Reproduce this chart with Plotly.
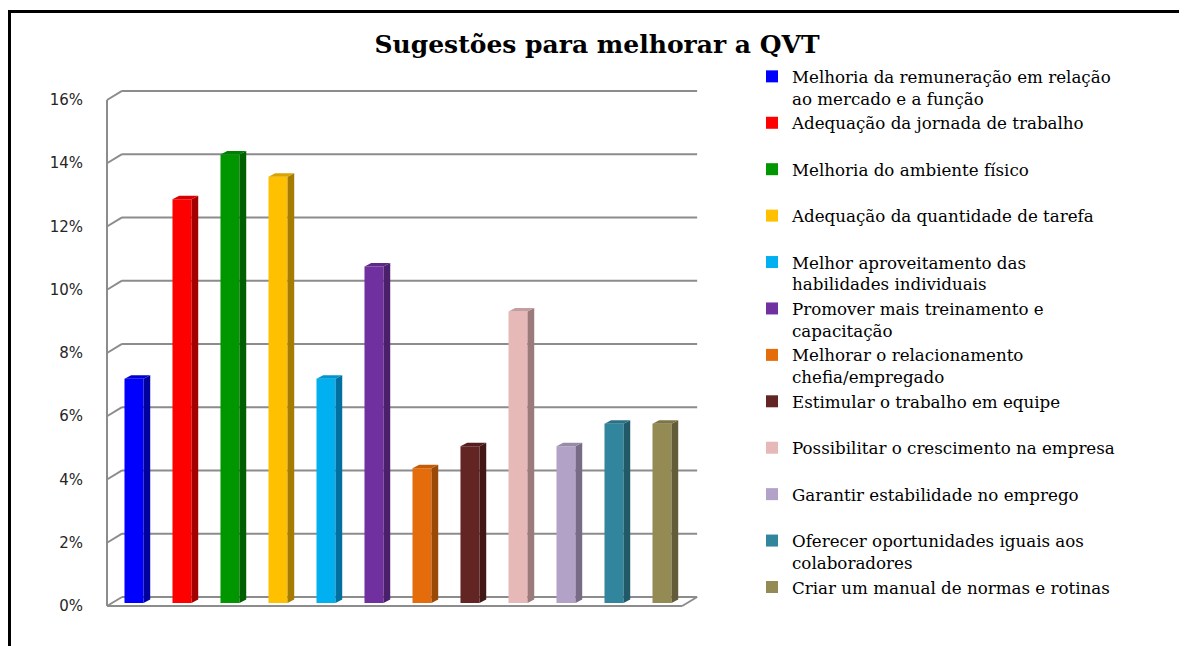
import plotly.graph_objects as go

categories = [
    "Melhoria da remuneração em relação<br>ao mercado e a função",
    "Adequação da jornada de trabalho",
    "Melhoria do ambiente físico",
    "Adequação da quantidade de tarefa",
    "Melhor aproveitamento das<br>habilidades individuais",
    "Promover mais treinamento e<br>capacitação",
    "Melhorar o relacionamento<br>chefia/empregado",
    "Estimular o trabalho em equipe",
    "Possibilitar o crescimento na empresa",
    "Garantir estabilidade no emprego",
    "Oferecer oportunidades iguais aos<br>colaboradores",
    "Criar um manual de normas e rotinas",
]
values = [7.09, 12.77, 14.18, 13.48, 7.09, 10.64, 4.26, 4.96, 9.22, 4.96, 5.67, 5.67]
front_colors = ["#0000FF", "#FF0000", "#009600", "#FFC000", "#00B0F0", "#7030A0",
                "#E46C0A", "#632523", "#E6B9B8", "#B3A2C7", "#31859C", "#948A54"]
side_colors = ["#00009E", "#A50000", "#005F00", "#A67C00", "#0070A0", "#4A1F6B",
               "#9A4906", "#421816", "#9A7A7A", "#776B85", "#215968", "#635C38"]
top_colors = ["#0000D0", "#D80000", "#007F00", "#D9A300", "#0095CC", "#5F2888",
              "#C25C08", "#541F1D", "#C49D9C", "#988AA9", "#2A7185", "#7E7547"]
y_ticks = [0, 2, 4, 6, 8, 10, 12, 14, 16]
y_ticktext = ["0%", "2%", "4%", "6%", "8%", "10%", "12%", "14%", "16%"]
title_text = "Sugestões para melhorar a QVT"

# geometry (styling)
BAR_W = 0.396
SDX, SDY = 0.14, 0.11
BASE = 0.095
WALL_X0 = -0.5625
WALL_DX, WALL_DY = 0.3125, 0.285
FLOOR_X1 = 11.42

fig = go.Figure()

for i, (cat, v) in enumerate(zip(categories, values)):
    label = cat if "<br>" in cat else cat + "<br>\u00a0"
    fig.add_trace(go.Bar(
        x=[i], y=[v], base=BASE, width=BAR_W, name=label,
        marker=dict(color=front_colors[i], line=dict(width=0)),
        legendgroup=str(i), showlegend=True,
    ))

for i, v in enumerate(values):
    xr = i + BAR_W / 2
    xl = i - BAR_W / 2
    top = BASE + v
    fig.add_trace(go.Scatter(
        x=[xr, xr + SDX, xr + SDX, xr, xr],
        y=[BASE, BASE + SDY, top + SDY, top, BASE],
        fill="toself", fillcolor=side_colors[i], mode="lines",
        line=dict(width=0, color=side_colors[i]), showlegend=False, hoverinfo="skip"))
    fig.add_trace(go.Scatter(
        x=[xl, xr, xr + SDX, xl + SDX, xl],
        y=[top, top, top + SDY, top + SDY, top],
        fill="toself", fillcolor=top_colors[i], mode="lines",
        line=dict(width=0, color=top_colors[i]), showlegend=False, hoverinfo="skip"))

shapes = []
grid_col = "#8C8C8C"
for t in y_ticks:
    shapes.append(dict(type="line", xref="x", yref="y", layer="below",
                       x0=WALL_X0 + WALL_DX, x1=FLOOR_X1 + WALL_DX,
                       y0=t + WALL_DY, y1=t + WALL_DY,
                       line=dict(color=grid_col, width=2)))
    shapes.append(dict(type="line", xref="x", yref="y", layer="below",
                       x0=WALL_X0, x1=WALL_X0 + WALL_DX, y0=t, y1=t + WALL_DY,
                       line=dict(color=grid_col, width=2)))
shapes.append(dict(type="line", xref="x", yref="y", layer="below",
                   x0=WALL_X0, x1=WALL_X0, y0=0, y1=y_ticks[-1],
                   line=dict(color=grid_col, width=2)))
shapes.append(dict(type="line", xref="x", yref="y", layer="below",
                   x0=WALL_X0, x1=FLOOR_X1, y0=0, y1=0,
                   line=dict(color=grid_col, width=2)))
shapes.append(dict(type="line", xref="x", yref="y", layer="below",
                   x0=FLOOR_X1, x1=FLOOR_X1 + WALL_DX, y0=0, y1=WALL_DY,
                   line=dict(color=grid_col, width=2)))
# outer chart frame
shapes.append(dict(type="rect", xref="paper", yref="paper", layer="above",
                   x0=-0.1496, x1=1.7909, y0=-0.2, y1=1.128,
                   line=dict(color="black", width=3), fillcolor="rgba(0,0,0,0)"))

fig.update_layout(
    width=1187, height=646,
    margin=dict(l=92, r=490, t=72, b=39, autoexpand=False),
    paper_bgcolor="white", plot_bgcolor="white",
    barmode="overlay",
    shapes=shapes,
    title=dict(text="<b>" + title_text + "</b>", x=589 / 1187, xanchor="center",
               y=1 - 36 / 646, yanchor="middle",
               font=dict(family="DejaVu Serif", size=25, color="black")),
    xaxis=dict(range=[-0.7083, 11.896], showgrid=False, zeroline=False,
               showticklabels=False, showline=False, fixedrange=True),
    yaxis=dict(range=[-0.2846, 16.632], tickvals=y_ticks, ticktext=y_ticktext,
               showgrid=False, zeroline=False, showline=False,
               ticks="outside", ticklen=13, tickcolor="rgba(0,0,0,0)",
               tickfont=dict(family="DejaVu Sans", size=15, color="#262626")),
    legend=dict(xref="container", yref="container",
                x=744 / 1187, xanchor="left",
                y=1 - 51 / 646, yanchor="top",
                valign="top", tracegroupgap=0, maxheight=640,
                font=dict(family="DejaVu Serif", size=16.7, color="black"),
                bgcolor="rgba(0,0,0,0)"),
    showlegend=True,
)

fig.write_html("out.html")
